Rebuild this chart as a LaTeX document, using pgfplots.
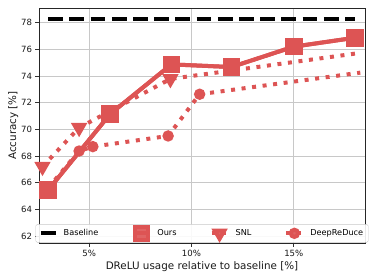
\documentclass[border=0pt]{standalone}
\usepackage{fontspec}
\setmainfont{DejaVu Sans}
\usepackage{pgfplots}
\pgfplotsset{compat=1.18}
\definecolor{myred}{RGB}{221,84,84}
\definecolor{gridgray}{RGB}{200,200,200}
\begin{document}
\begin{tikzpicture}
\begin{axis}[
  width=326bp, height=235bp, scale only axis,
  xmin=2.55, xmax=18.48, ymin=61.47, ymax=79.1,
  xtick={5,10,15}, xticklabels={5\%,10\%,15\%},
  ytick={62,64,...,78},
  /pgf/number format/assume math mode=true,
  tick label style={font=\fontsize{8.6}{10}\selectfont, color=black!90},
  label style={font=\fontsize{10.4}{12}\selectfont, color=black!90},
  xlabel={DReLU usage relative to baseline [\%]},
  ylabel={Accuracy [\%]},
  xlabel style={yshift=2bp},
  ylabel style={yshift=-4bp},
  tick align=outside, major tick length=3.5bp,
  tick style={black!80, line width=0.6bp},
  xtick pos=bottom, ytick pos=left,
  axis line style={black!85, line width=0.7bp},
  grid=major, major grid style={gridgray, line width=0.8bp},
  legend columns=4,
  legend style={at={(0.5,0.002)}, anchor=south, draw=gridgray, fill=white, fill opacity=0.9, text opacity=1,
    rounded corners=1.5bp, inner xsep=3bp, inner ysep=2.2bp,
    font=\fontsize{8.2}{9}\selectfont,
    /tikz/every even column/.append style={column sep=31bp},
    /tikz/every odd column/.append style={column sep=4bp}},
  legend image code/.code={\draw[#1] (0bp,0bp) -- (16bp,0bp); \draw[#1,mark repeat=1,mark phase=1] plot coordinates {(8bp,0bp)};},
]
\addplot[black, line width=4bp, dash pattern=on 14.8bp off 6.4bp, line cap=butt,
  legend image code/.code={\draw[black, line width=4bp] (0bp,0bp) -- (15bp,0bp);}]
  coordinates {(3.0,78.25) (18.0,78.25)};
\addlegendentry{Baseline}
\addplot[myred, line width=4bp, mark=square*, mark size=6.8bp, mark options={solid}]
  coordinates {(3.0,65.45) (6.03,71.15) (9.02,74.87) (11.95,74.67) (15.0,76.2) (18.0,76.87)};
\addlegendentry{Ours}
\addplot[myred, line width=4bp, dash pattern=on 4bp off 6.6bp, line cap=butt,
  mark=triangle*, mark size=5.5bp, mark options={solid, rotate=180}, mark indices={1,2,3}]
  coordinates {(2.72,67.2) (4.51,70.12) (8.97,73.78) (18.1,75.7)};
\addlegendentry{SNL}
\addplot[myred, line width=4bp, dash pattern=on 4bp off 6.6bp, line cap=butt,
  mark=*, mark size=3.6bp, mark options={solid}, mark indices={1,2,3,4,5}]
  coordinates {(3.0,65.6) (4.51,68.37) (5.18,68.7) (8.86,69.5) (10.4,72.63) (18.25,74.25)};
\addlegendentry{DeepReDuce}
\addplot[myred, line width=4bp, mark=square*, mark size=6.8bp, mark options={solid}, forget plot]
  coordinates {(3.0,65.45) (6.03,71.15) (9.02,74.87) (11.95,74.67) (15.0,76.2) (18.0,76.87)};
\end{axis}
\pgfresetboundingbox
\path ([xshift=-39bp,yshift=-37bp]current axis.south west) rectangle ++(374bp,280bp);
\end{tikzpicture}
\end{document}
